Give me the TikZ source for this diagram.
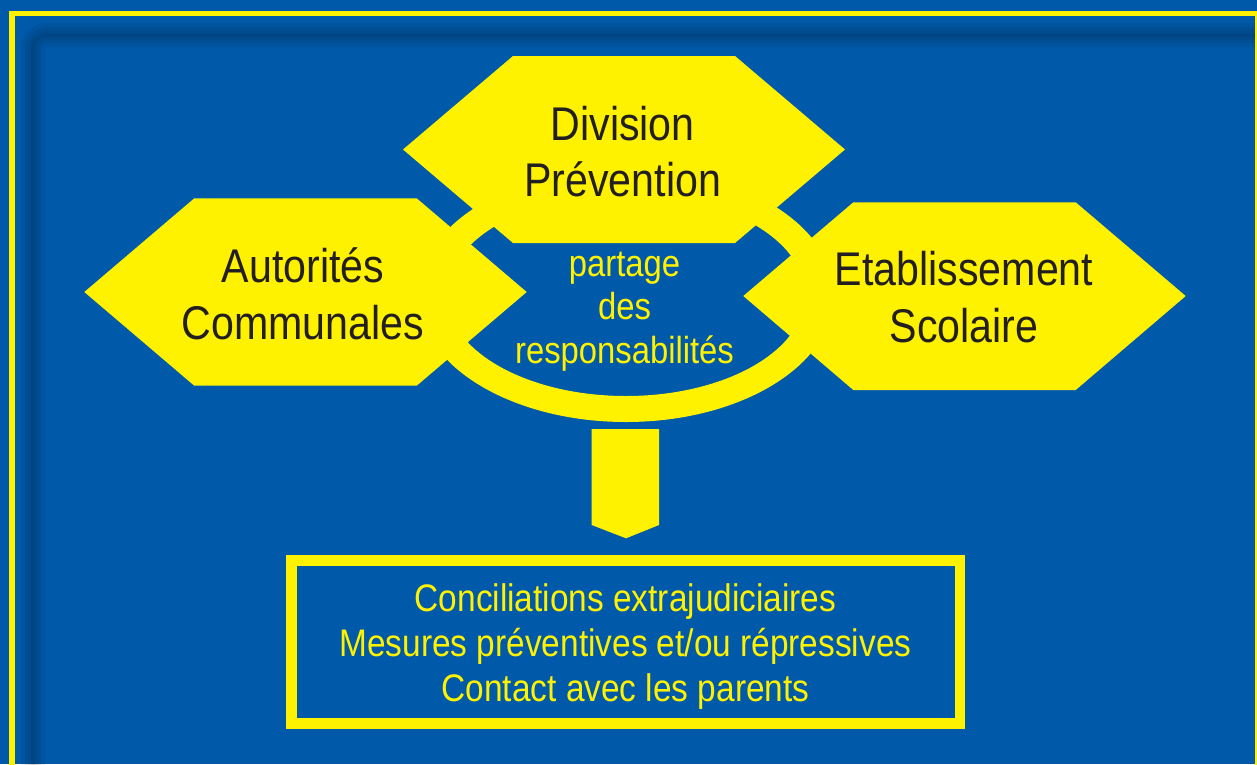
\documentclass[tikz,border=0pt]{standalone}
\usepackage{fontspec}
\setmainfont{Liberation Sans}[FakeStretch=0.87]
\definecolor{bgblue}{RGB}{0,89,169}
\definecolor{ylw}{RGB}{255,242,0}
\definecolor{ink}{RGB}{35,31,32}
\begin{document}
\begin{tikzpicture}[x=1pt,y=-1pt,
  hextext/.style={anchor=base, text=ink, inner sep=0pt, font=\fontsize{47.3}{57}\selectfont},
  ringtext/.style={anchor=base, text=ylw, inner sep=0pt, font=\fontsize{37.7}{44}\selectfont},
  boxtext/.style={anchor=base, text=ylw, inner sep=0pt, font=\fontsize{38.4}{45}\selectfont},
  yshape/.style={fill=ylw},
  shadowline/.style={black, opacity=0.055, rounded corners=14pt}]
\useasboundingbox (0,0) rectangle (1257,764);
\fill[bgblue] (0,0) rectangle (1257,764);
\begin{scope}
  \clip (0,0) rectangle (1257,764);
  \foreach \w in {24,16,10,4} {
    \draw[shadowline, line width=\w pt] (33,820) -- (33,35) -- (1320,35);
  }
  \draw[ylw, line width=5.7pt] (12.2,820) -- (12.2,13.5) -- (1258.2,13.5) -- (1258.2,820);
\end{scope}
% ring
\fill[yshape, even odd rule] (626,295) ellipse [x radius=208pt, y radius=127pt]
  (626,295) ellipse [x radius=179pt, y radius=101pt];
% hexagons
\fill[yshape] (403,149.5) -- (513,56) -- (735,56) -- (845,149.5) -- (735,243) -- (513,243) -- cycle;
\fill[yshape] (84.3,292) -- (194.3,198.3) -- (416.7,198.3) -- (526.7,292) -- (416.7,385.7) -- (194.3,385.7) -- cycle;
\fill[yshape] (743.3,296) -- (853.3,202.3) -- (1075.7,202.3) -- (1185.7,296) -- (1075.7,390) -- (853.3,390) -- cycle;
% arrow
\fill[yshape] (591.7,429) -- (659,429) -- (659,525) -- (626,538.3) -- (591.7,525) -- cycle;
% box
\draw[ylw, line width=10.5pt] (291.3,560.3) rectangle (960,723.7);
% texts
\node[hextext] (div1) at (622.7,140) {Division};
\node[hextext] (div2) at (622.7,196.7) {Prévention};
\node[hextext] (aut1) at (303,282.3) {Autorités};
\node[hextext] (aut2) at (303,339) {Communales};
\node[hextext] (eta1) at (964,285) {Etablissement};
\node[hextext] (eta2) at (964,342.3) {Scolaire};
\node[ringtext] (r1) at (624.5,276.7) {partage};
\node[ringtext] (r2) at (624.5,319.3) {des};
\node[ringtext] (r3) at (624.5,363.3) {responsabilités};
\node[boxtext] (b1) at (625.5,611.7) {Conciliations extrajudiciaires};
\node[boxtext] (b2) at (625.5,656.7) {Mesures préventives et/ou répressives};
\node[boxtext] (b3) at (625.5,701.7) {Contact avec les parents};
\end{tikzpicture}
\end{document}
